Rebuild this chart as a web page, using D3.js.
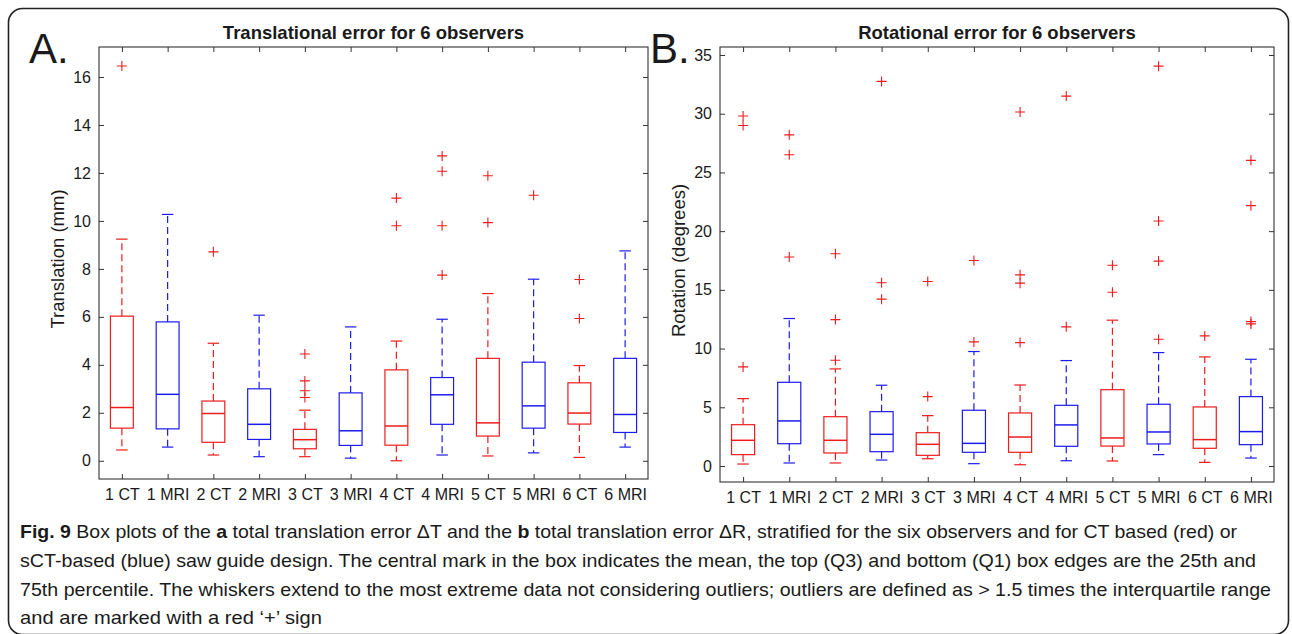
<!DOCTYPE html>
<html>
<head>
<meta charset="utf-8">
<style>
  body { margin: 0; background: #fff; }
  svg text { font-family: "Liberation Sans", Arial, sans-serif; fill: #1a1a1a; }
</style>
</head>
<body>
<script src="https://d3js.org/d3.v7.min.js"></script>
<svg id="fig" width="1292" height="634"></svg>
<script>
// groups, same for both panels
var groups = ["1 CT", "1 MRI", "2 CT", "2 MRI", "3 CT", "3 MRI", "4 CT", "4 MRI", "5 CT", "5 MRI", "6 CT", "6 MRI"];

// translational error (mm)
var transQ1 = [1.36, 1.33, 0.77, 0.89, 0.50, 0.64, 0.65, 1.52, 1.03, 1.36, 1.53, 1.18];
var transMed = [2.22, 2.77, 1.97, 1.52, 0.88, 1.25, 1.45, 2.75, 1.58, 2.29, 1.99, 1.93];
var transQ3 = [6.03, 5.79, 2.49, 3.00, 1.31, 2.83, 3.79, 3.47, 4.27, 4.11, 3.25, 4.27];
var transLo = [0.45, 0.57, 0.24, 0.17, 0.17, 0.11, 0.00, 0.24, 0.20, 0.33, 0.14, 0.57];
var transHi = [9.24, 10.27, 4.90, 6.07, 2.11, 5.58, 4.99, 5.90, 6.97, 7.57, 3.97, 8.75];
var transOut = [[16.46], [], [8.71], [], [4.45, 3.33, 2.92, 2.64], [], [10.95, 9.80],
                [12.71, 12.07, 9.80, 7.74], [11.88, 9.93], [11.07], [5.93, 7.56], []];
var transTicks = [0, 2, 4, 6, 8, 10, 12, 14, 16];

// rotational error (degrees)
var rotQ1 = [0.97, 1.90, 1.11, 1.22, 0.91, 1.17, 1.17, 1.68, 1.70, 1.88, 1.51, 1.82];
var rotMed = [2.19, 3.84, 2.19, 2.70, 1.85, 1.93, 2.47, 3.50, 2.39, 2.90, 2.25, 2.93];
var rotQ3 = [3.52, 7.13, 4.20, 4.63, 2.84, 4.75, 4.52, 5.17, 6.50, 5.26, 5.03, 5.91];
var rotLo = [0.17, 0.26, 0.26, 0.51, 0.62, 0.20, 0.11, 0.45, 0.43, 0.97, 0.31, 0.68];
var rotHi = [5.74, 12.56, 8.27, 6.88, 4.29, 9.75, 6.90, 8.98, 12.42, 9.66, 9.29, 9.09];
var rotOut = [[8.44, 29.0, 29.8], [17.8, 26.5, 28.2], [9.01, 12.47, 18.07], [14.21, 15.6, 32.75],
              [5.91, 15.71], [10.57, 17.5], [10.51, 15.57, 16.28, 30.15], [11.85, 31.5],
              [14.8, 17.1], [10.8, 17.45, 20.86, 34.05], [11.08], [12.1, 12.3, 22.17, 26.03]];
var rotTicks = [0, 5, 10, 15, 20, 25, 30, 35];

var RED = "#ee1c1c", BLUE = "#1c1cee";
var svg = d3.select("#fig");

// outer frame
svg.append("rect")
    .attr("x", 8.5).attr("y", 8.5).attr("width", 1280).attr("height", 626)
    .attr("rx", 14).attr("fill", "none").attr("stroke", "#222").attr("stroke-width", 1.6);

function drawPanel(p) {
    var x = d3.scaleLinear().domain([0.5, 12.5]).range([p.left, p.right]);
    var y = d3.scaleLinear().domain(p.ydom).range([p.bottom, p.top]);
    var g = svg.append("g");

    // axes, ticks pointing inward like matlab
    var idx = d3.range(1, 13);
    g.append("g").attr("transform", "translate(0," + p.bottom + ")")
        .call(d3.axisBottom(x).tickValues(idx).tickFormat(i => groups[i - 1])
            .tickSizeInner(-5).tickSizeOuter(0).tickPadding(p.xpad))
        .call(s => s.select(".domain").remove());
    g.append("g").attr("transform", "translate(0," + p.top + ")")
        .call(d3.axisTop(x).tickValues(idx).tickFormat("").tickSizeInner(-5).tickSizeOuter(0))
        .call(s => s.select(".domain").remove());
    g.append("g").attr("transform", "translate(" + p.left + ",0)")
        .call(d3.axisLeft(y).tickValues(p.ticks).tickSizeInner(-5).tickSizeOuter(0).tickPadding(8))
        .call(s => s.select(".domain").remove());
    g.append("g").attr("transform", "translate(" + p.right + ",0)")
        .call(d3.axisRight(y).tickValues(p.ticks).tickFormat("").tickSizeInner(-5).tickSizeOuter(0))
        .call(s => s.select(".domain").remove());
    g.selectAll(".tick line").attr("stroke", "#333");
    g.selectAll(".tick text").attr("font-size", 16).attr("fill", "#1a1a1a")
        .attr("font-family", "'Liberation Sans', Arial, sans-serif");

    g.append("rect")
        .attr("x", p.left).attr("y", p.top)
        .attr("width", p.right - p.left).attr("height", p.bottom - p.top)
        .attr("fill", "none").attr("stroke", "#333").attr("stroke-width", 1.1);

    // boxes
    var hw = 0.25, cw = 0.125;
    idx.forEach(function (i) {
        var k = i - 1;
        var col = k % 2 == 0 ? RED : BLUE;
        var b = g.append("g").attr("stroke", col).attr("fill", "none").attr("stroke-width", 1.2);
        // whiskers
        b.append("line").attr("x1", x(i)).attr("x2", x(i))
            .attr("y1", y(p.q3[k])).attr("y2", y(p.hi[k])).attr("stroke-dasharray", "7,4");
        b.append("line").attr("x1", x(i)).attr("x2", x(i))
            .attr("y1", y(p.q1[k])).attr("y2", y(p.lo[k])).attr("stroke-dasharray", "7,4");
        // caps
        [p.hi[k], p.lo[k]].forEach(function (v) {
            b.append("line").attr("x1", x(i - cw)).attr("x2", x(i + cw))
                .attr("y1", y(v)).attr("y2", y(v));
        });
        // box
        b.append("rect").attr("x", x(i - hw)).attr("y", y(p.q3[k]))
            .attr("width", x(i + hw) - x(i - hw)).attr("height", y(p.q1[k]) - y(p.q3[k]));
        // median
        b.append("line").attr("x1", x(i - hw)).attr("x2", x(i + hw))
            .attr("y1", y(p.med[k])).attr("y2", y(p.med[k])).attr("stroke-width", 1.5);
        // outliers
        p.out[k].forEach(function (v) {
            var cx = x(i), cy = y(v), r = 5;
            b.append("path")
                .attr("d", "M" + (cx - r) + "," + cy + "H" + (cx + r) + "M" + cx + "," + (cy - r) + "V" + (cy + r))
                .attr("stroke", RED).attr("stroke-width", 1.1);
        });
    });

    // title and labels
    svg.append("text").attr("x", (p.left + p.right) / 2).attr("y", 39)
        .attr("text-anchor", "middle").attr("font-size", 18.5).attr("font-weight", "bold")
        .text(p.title);
    svg.append("text")
        .attr("transform", "translate(" + p.ylx + "," + ((p.top + p.bottom) / 2 - 4) + ") rotate(-90)")
        .attr("text-anchor", "middle").attr("font-size", 18.5)
        .text(p.ylabel);
    svg.append("text").attr("x", p.letterX).attr("y", 63)
        .attr("font-size", 42).attr("fill", "#000")
        .text(p.letter);
}

drawPanel({
    left: 99, right: 648, top: 47, bottom: 479, ydom: [-0.76, 17.25], xpad: 10,
    ticks: transTicks, q1: transQ1, med: transMed, q3: transQ3, lo: transLo, hi: transHi, out: transOut,
    title: "Translational error for 6 observers", ylabel: "Translation (mm)", ylx: 64,
    letter: "A.", letterX: 29
});
drawPanel({
    left: 720, right: 1274, top: 47, bottom: 482, ydom: [-1.36, 35.68], xpad: 10,
    ticks: rotTicks, q1: rotQ1, med: rotMed, q3: rotQ3, lo: rotLo, hi: rotHi, out: rotOut,
    title: "Rotational error for 6 observers", ylabel: "Rotation (degrees)", ylx: 685,
    letter: "B.", letterX: 650
});

// caption
var capLines = [
    {y: 538, len: 1217, parts: [["Fig. 9", true], [" Box plots of the ", false], ["a", true],
        [" total translation error \u0394T and the ", false], ["b", true],
        [" total translation error \u0394R, stratified for the six observers and for CT based (red) or", false]]},
    {y: 567, len: 1236, parts: [["sCT-based (blue) saw guide design. The central mark in the box indicates the mean, the top (Q3) and bottom (Q1) box edges are the 25th and", false]]},
    {y: 596, len: 1251, parts: [["75th percentile. The whiskers extend to the most extreme data not considering outliers; outliers are defined as > 1.5 times the interquartile range", false]]},
    {y: 624, len: 302, parts: [["and are marked with a red \u2018+\u2019 sign", false]]}
];
capLines.forEach(function (l) {
    var t = svg.append("text").attr("x", 20).attr("y", l.y)
        .attr("font-size", 19).attr("font-family", "'Liberation Sans Narrow', 'Liberation Sans', sans-serif")
        .attr("fill", "#2b2b2b")
        .attr("textLength", l.len).attr("lengthAdjust", "spacingAndGlyphs");
    l.parts.forEach(function (pt) {
        t.append("tspan").attr("font-weight", pt[1] ? "bold" : "normal").text(pt[0]);
    });
});
</script>
</body>
</html>
